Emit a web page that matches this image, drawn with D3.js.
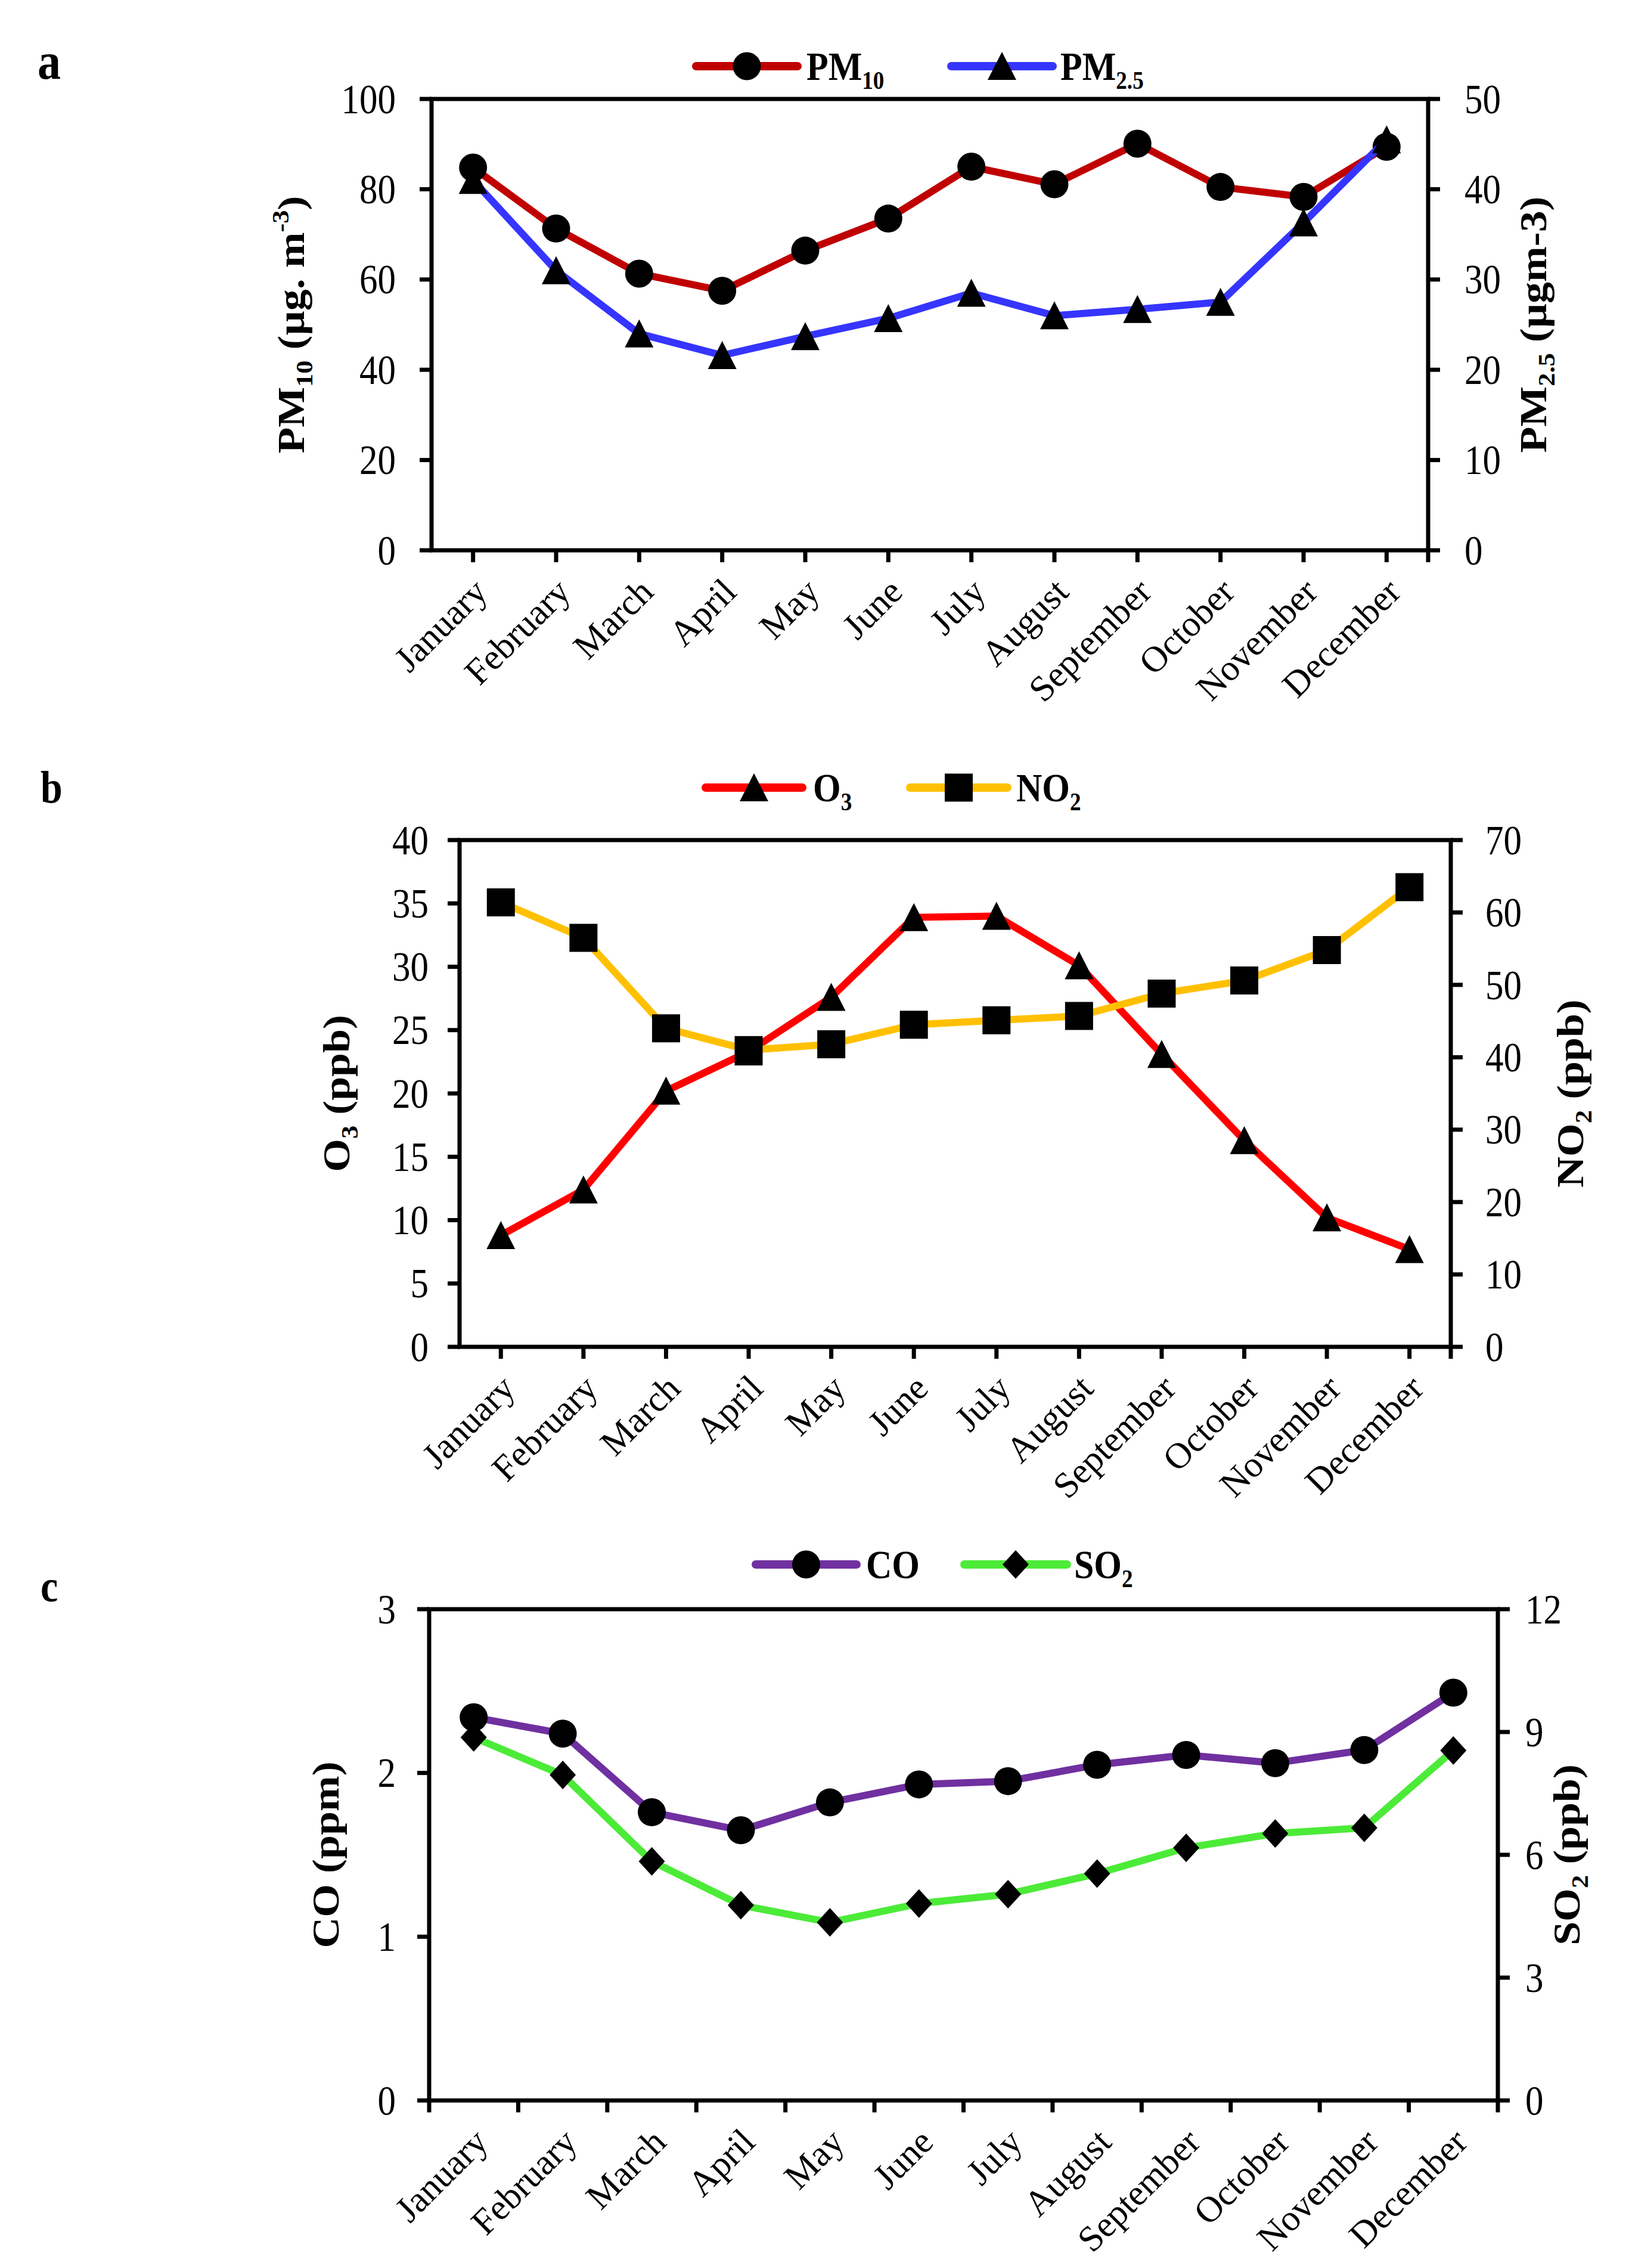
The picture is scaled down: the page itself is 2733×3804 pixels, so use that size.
<!DOCTYPE html>
<html><head><meta charset="utf-8">
<script src="https://cdn.jsdelivr.net/npm/d3@7/dist/d3.min.js"></script>
<style>
body{margin:0;background:#fff}
text{font-family:'Liberation Serif','Times New Roman',serif;fill:#000}
</style>
</head><body>
<svg id="chart"></svg>
<script>
// ---------- data ----------
const months = ["January","February","March","April","May","June","July","August","September","October","November","December"];
const pm10 = [84.8, 71.3, 61.3, 57.5, 66.4, 73.5, 85.0, 81.1, 90.1, 80.5, 78.3, 89.4];
const pm25 = [41.0, 31.0, 24.0, 21.6, 23.7, 25.7, 28.5, 26.0, 26.7, 27.5, 36.3, 45.5];
const o3   = [8.8, 12.4, 20.2, 23.3, 27.6, 33.9, 34.0, 30.1, 23.1, 16.3, 10.2, 7.7];
const no2  = [61.4, 56.5, 44.0, 41.0, 41.8, 44.5, 45.1, 45.7, 48.8, 50.6, 54.8, 63.5];
const co   = [2.34, 2.24, 1.76, 1.65, 1.82, 1.93, 1.95, 2.05, 2.11, 2.06, 2.14, 2.49];
const so2  = [8.87, 7.95, 5.84, 4.77, 4.35, 4.81, 5.04, 5.54, 6.17, 6.52, 6.66, 8.55];
const ticksPM10 = [0, 20, 40, 60, 80, 100];
const ticksPM25 = [0, 10, 20, 30, 40, 50];
const ticksO3   = [0, 5, 10, 15, 20, 25, 30, 35, 40];
const ticksNO2  = [0, 10, 20, 30, 40, 50, 60, 70];
const ticksCO   = [0, 1, 2, 3];
const ticksSO2  = [0, 3, 6, 9, 12];

// ---------- layout / style ----------
const W = 2733, H = 3804;
const STRETCH = 1.14;
const svg = d3.select("#chart").attr("width", W).attr("height", H);
svg.append("rect").attr("width", W).attr("height", H).attr("fill", "#fff");

const panels = [
  { letter: "a", lfs: 78, lp: [63, 132], left: 724, right: 2396, top: 166, bottom: 923,
    s0: { data: pm10, color: "#C00000", marker: "circle", label: [["PM"], ["10", "sub"]] },
    s1: { data: pm25, color: "#3535FF", marker: "triangle", label: [["PM"], ["2.5", "sub"]] },
    t0: ticksPM10, t1: ticksPM25, mode: "center",
    title0: [["PM"], ["10", "sub"], [" (µg. m"], ["-3", "sup"], [")"]],
    title1: [["PM"], ["2.5", "sub"], [" (µgm-3)"]],
    tx0: 510, tx1: 2594, lab0: 60, lab1: 61,
    leg: { y: 111, items: [[1168, 1338, 1353], [1596, 1766, 1779]] } },
  { letter: "b", lfs: 66, lp: [68, 1346], left: 771, right: 2434, top: 1409, bottom: 2259,
    s0: { data: o3, color: "#FF0000", marker: "triangle", label: [["O"], ["3", "sub"]] },
    s1: { data: no2, color: "#FFC000", marker: "square", label: [["NO"], ["2", "sub"]] },
    t0: ticksO3, t1: ticksNO2, mode: "center",
    title0: [["O"], ["3", "sub"], [" (ppb)"]],
    title1: [["NO"], ["2", "sub"], [" (ppb)"]],
    tx0: 586, tx1: 2656, lab0: 52, lab1: 58,
    leg: { y: 1321, items: [[1184, 1346, 1364], [1527, 1690, 1705]] } },
  { letter: "c", lfs: 66, lp: [68, 2686], left: 720, right: 2513, top: 2699, bottom: 3523,
    s0: { data: co, color: "#7030A0", marker: "circle", label: [["CO"]] },
    s1: { data: so2, color: "#4CEB38", marker: "diamond", label: [["SO"], ["2", "sub"]] },
    t0: ticksCO, t1: ticksSO2, mode: "between",
    title0: [["CO (ppm)"]],
    title1: [["SO"], ["2", "sub"], [" (ppb)"]],
    tx0: 568, tx1: 2650, lab0: 56, lab1: 46,
    leg: { y: 2624, items: [[1268, 1437, 1453], [1618, 1790, 1802]] } }
];

const FS_TICK = 61, FS_MONTH = 61, FS_TITLE = 63, FS_LEG = 60;
const LW = 12, AXW = 7, TICK = 20;

function markerPath(type) {
  const p = d3.path();
  if (type === "circle") { p.arc(0, 0, 23.5, 0, 2 * Math.PI); }
  else if (type === "triangle") { p.moveTo(0, -24); p.lineTo(24, 23); p.lineTo(-24, 23); p.closePath(); }
  else if (type === "square") { p.rect(-23.5, -23.5, 47, 47); }
  else if (type === "diamond") { p.moveTo(0, -24); p.lineTo(22, 0); p.lineTo(0, 24); p.lineTo(-22, 0); p.closePath(); }
  return p.toString();
}

function richText(sel, parts, fs) {
  let shift = 0;
  parts.forEach(([t, kind]) => {
    const ts = sel.append("tspan").text(t);
    let target = 0, size = fs;
    if (kind === "sub") { target = 0.22 * fs; size = 0.62 * fs; }
    if (kind === "sup") { target = -0.42 * fs; size = 0.62 * fs; }
    ts.attr("font-size", size).attr("dy", target - shift);
    shift = target;
  });
}

panels.forEach(P => {
  const g = svg.append("g");
  const x = d3.scaleBand().domain(months).range([P.left, P.right]);
  const y0 = d3.scaleLinear().domain(d3.extent(P.t0)).range([P.bottom, P.top]);
  const y1 = d3.scaleLinear().domain(d3.extent(P.t1)).range([P.bottom, P.top]);
  const cx = m => x(m) + x.bandwidth() / 2;

  // frame
  const ax = g.append("g").attr("stroke", "#000").attr("stroke-width", AXW).attr("fill", "none");
  ax.append("path").attr("d", `M${P.left},${P.bottom}V${P.top}H${P.right}V${P.bottom}Z`).attr("stroke-linejoin", "miter");
  // y ticks + labels
  P.t0.forEach(v => {
    ax.append("line").attr("x1", P.left - TICK).attr("x2", P.left).attr("y1", y0(v)).attr("y2", y0(v));
    g.append("text").attr("transform", `translate(${P.left - P.lab0},${y0(v)}) scale(1,${STRETCH})`)
      .attr("text-anchor", "end").attr("dy", "0.34em").attr("font-size", FS_TICK).text(v);
  });
  P.t1.forEach(v => {
    ax.append("line").attr("x1", P.right).attr("x2", P.right + TICK).attr("y1", y1(v)).attr("y2", y1(v));
    g.append("text").attr("transform", `translate(${P.right + P.lab1},${y1(v)}) scale(1,${STRETCH})`)
      .attr("text-anchor", "start").attr("dy", "0.34em").attr("font-size", FS_TICK).text(v);
  });
  // bottom ticks
  const bt = (P.mode === "center" ? months.map(cx) : months.map(m => x(m))).concat([P.right]);
  bt.forEach(xx => ax.append("line").attr("x1", xx).attr("x2", xx).attr("y1", P.bottom).attr("y2", P.bottom + TICK));
  // month labels
  months.forEach(m => {
    g.append("text").attr("transform", `translate(${cx(m) + 12},${P.bottom + 58}) rotate(-45)`)
      .attr("text-anchor", "end").attr("dy", "0.35em").attr("font-size", FS_MONTH).text(m);
  });
  // axis titles
  [[P.tx0, P.title0], [P.tx1, P.title1]].forEach(([tx, parts]) => {
    const t = g.append("text").attr("transform", `translate(${tx},${(P.top + P.bottom) / 2}) rotate(-90) scale(${STRETCH},1)`)
      .attr("text-anchor", "middle").attr("dy", "0.33em").attr("font-weight", "bold").attr("font-size", FS_TITLE);
    richText(t, parts, FS_TITLE);
  });
  // panel letter
  g.append("text").attr("transform", `translate(${P.lp[0]},${P.lp[1]}) scale(1,${STRETCH})`)
    .attr("font-weight", "bold").attr("font-size", P.lfs).text(P.letter);

  // series
  [[P.s0, y0], [P.s1, y1]].forEach(([s, yy]) => {
    const line = d3.line().x((d, i) => cx(months[i])).y(d => yy(d));
    g.append("path").datum(s.data).attr("d", line).attr("fill", "none").attr("stroke", s.color)
      .attr("stroke-width", LW).attr("stroke-linejoin", "round").attr("stroke-linecap", "round");
    g.selectAll(null).data(s.data).join("path")
      .attr("transform", (d, i) => `translate(${cx(months[i])},${yy(d)})`)
      .attr("d", markerPath(s.marker)).attr("fill", "#000");
  });

  // legend
  [P.s0, P.s1].forEach((s, k) => {
    const [x1, x2, tx] = P.leg.items[k];
    const ly = P.leg.y;
    g.append("line").attr("x1", x1).attr("x2", x2).attr("y1", ly).attr("y2", ly)
      .attr("stroke", s.color).attr("stroke-width", 14).attr("stroke-linecap", "round");
    g.append("path").attr("transform", `translate(${(x1 + x2) / 2},${ly})`).attr("d", markerPath(s.marker)).attr("fill", "#000");
    const t = g.append("text").attr("transform", `translate(${tx},${ly + 23}) scale(1,${STRETCH})`)
      .attr("font-weight", "bold").attr("font-size", FS_LEG);
    richText(t, s.label, FS_LEG);
  });
});
</script>
</body></html>
